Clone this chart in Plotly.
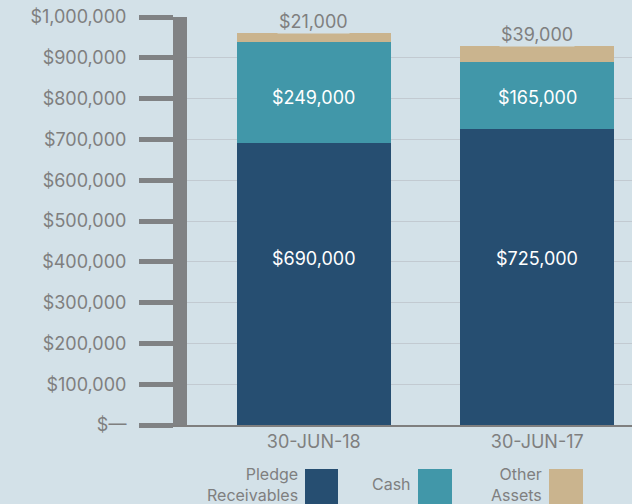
import plotly.graph_objects as go

dates = ["30-JUN-18", "30-JUN-17"]
pledge = [690000, 725000]
cash = [249000, 165000]
other = [21000, 39000]

tick_vals = [0, 100000, 200000, 300000, 400000, 500000, 600000, 700000, 800000, 900000, 1000000]
tick_text = ["$\u2014", "$100,000", "$200,000", "$300,000", "$400,000", "$500,000",
             "$600,000", "$700,000", "$800,000", "$900,000", "$1,000,000"]

legend_names = ["Pledge<br>Receivables", "Cash", "Other<br>Assets"]
colors = ["#264e71", "#4197a9", "#cab48e"]

bg = "#d3e1e8"
grey = "#7f7f7f"
font = "Inter"
# in the original the inside labels sit at one height in both bars
PLEDGE_LABEL_Y = 407000
CASH_LABEL_Y = 802000

fig = go.Figure()
for vals, c in zip([pledge, cash, other], colors):
    fig.add_trace(go.Bar(x=dates, y=vals, marker_color=c, marker_line_width=0,
                         hoverinfo="skip"))

for d, p, c, o in zip(dates, pledge, cash, other):
    fig.add_annotation(x=d, y=PLEDGE_LABEL_Y, text=f"${p:,.0f}", showarrow=False,
                       font=dict(color="white", size=18, family=font))
    fig.add_annotation(x=d, y=CASH_LABEL_Y, text=f"${c:,.0f}", showarrow=False,
                       font=dict(color="white", size=18, family=font))
    fig.add_annotation(x=d, y=p + c + o, text=f"${o:,.0f}", showarrow=False,
                       yanchor="bottom", yshift=-1, bgcolor=bg, borderpad=1,
                       font=dict(color=grey, size=18, family=font))

fig.update_layout(
    barmode="stack", bargap=0.3125, showlegend=False,
    width=632, height=504,
    margin=dict(l=187, r=0, t=17, b=79),
    paper_bgcolor=bg, plot_bgcolor=bg,
    font=dict(family=font, color=grey, size=18),
)
fig.update_xaxes(range=[-0.567, 1.424], showline=True, linecolor=grey, linewidth=1.5,
                 showgrid=False, ticks="", tickfont=dict(size=18, color=grey))
fig.update_yaxes(range=[0, 1000000], tickvals=tick_vals, ticktext=tick_text,
                 showline=True, linecolor="#808284", linewidth=14,
                 ticks="outside", ticklen=34, tickwidth=5, tickcolor="#808284",
                 showgrid=True, gridcolor="#c2cad1", gridwidth=1, zeroline=False,
                 tickfont=dict(size=18, color=grey), ticklabelstandoff=9)

# legend drawn by hand: text to the left of each swatch
sw_x = [(305, 338), (418, 452), (549, 583)]
for (x0, x1), name, c in zip(sw_x, legend_names, colors):
    fig.add_shape(type="rect", xref="paper", yref="paper",
                  x0=(x0 - 187) / 445, x1=(x1 - 187) / 445,
                  y0=(425 - 504) / 408, y1=(425 - 469) / 408,
                  fillcolor=c, line_width=0)
    fig.add_annotation(xref="paper", yref="paper", x=(x0 - 6 - 187) / 445,
                       y=(425 - 484) / 408, text=name, showarrow=False,
                       xanchor="right", yanchor="middle", align="right", borderpad=0,
                       font=dict(size=16, color=grey, family=font))

fig.write_html("out.html", config={"displayModeBar": False},
               post_script="document.body.style.margin='0';"
                           "document.body.style.background='" + bg + "';")
